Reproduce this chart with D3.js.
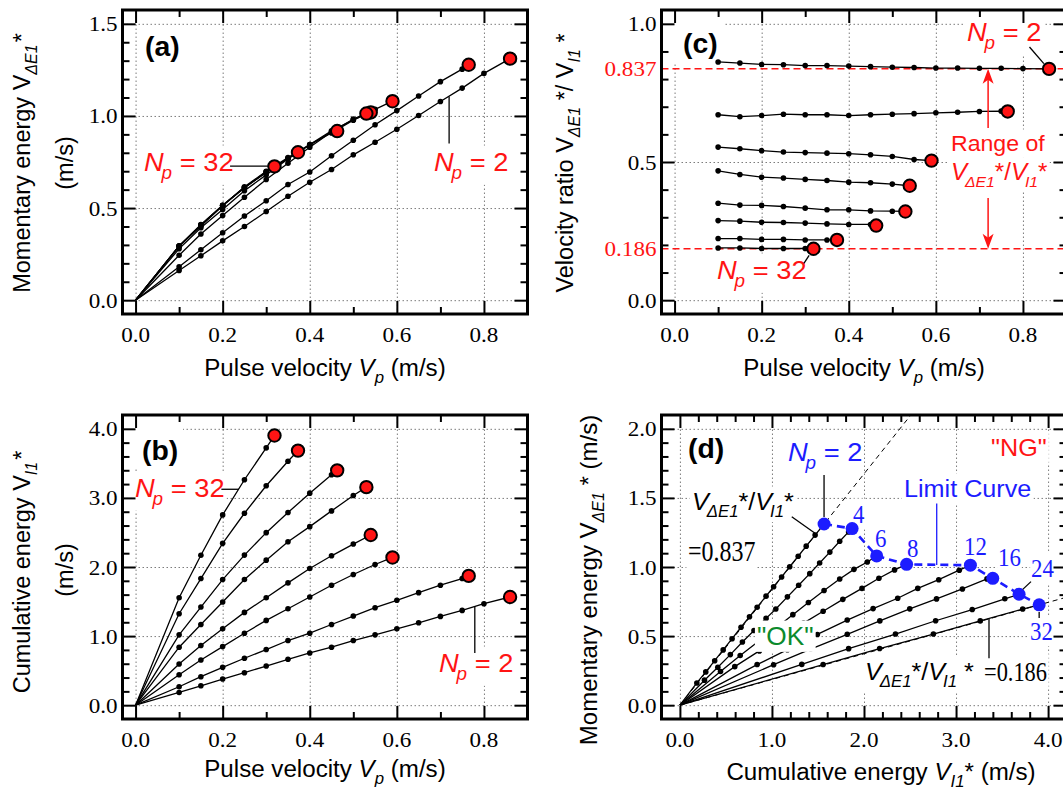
<!DOCTYPE html>
<html>
<head>
<meta charset="utf-8">
<script src="https://cdn.jsdelivr.net/npm/d3@7"></script>
<style>
  body { margin: 0; background: #fff; }
  svg { display: block; }
  text { white-space: pre; }
</style>
</head>
<body>
<script>
// ---------------- data ----------------
// Series order follows the pulse counts; the last entry of each series is the limit (red / blue) point.
const pulseCounts = [2, 4, 6, 8, 12, 16, 24, 32];

const pulseVelocity = [
  [0.10, 0.15, 0.20, 0.25, 0.30, 0.35, 0.40, 0.45, 0.50, 0.55, 0.60, 0.65, 0.70, 0.75, 0.80, 0.86],
  [0.10, 0.15, 0.20, 0.25, 0.30, 0.35, 0.40, 0.45, 0.50, 0.55, 0.60, 0.65, 0.70, 0.75, 0.765],
  [0.10, 0.15, 0.20, 0.25, 0.30, 0.35, 0.40, 0.45, 0.50, 0.55, 0.59],
  [0.10, 0.15, 0.20, 0.25, 0.30, 0.35, 0.40, 0.45, 0.50, 0.54],
  [0.10, 0.15, 0.20, 0.25, 0.30, 0.35, 0.40, 0.45, 0.50, 0.53],
  [0.10, 0.15, 0.20, 0.25, 0.30, 0.35, 0.40, 0.45, 0.463],
  [0.10, 0.15, 0.20, 0.25, 0.30, 0.35, 0.373],
  [0.10, 0.15, 0.20, 0.25, 0.30, 0.319]
];

// Cumulative energy V_I1* (m/s)
const cumulativeEnergy = [
  [0.184, 0.281, 0.378, 0.470, 0.567, 0.664, 0.756, 0.839, 0.936, 1.018, 1.105, 1.193, 1.285, 1.372, 1.469, 1.566],
  [0.267, 0.412, 0.548, 0.679, 0.805, 0.936, 1.042, 1.168, 1.290, 1.411, 1.518, 1.629, 1.736, 1.833, 1.871],
  [0.441, 0.655, 0.848, 1.042, 1.227, 1.396, 1.566, 1.736, 1.891, 2.036, 2.138],
  [0.596, 0.863, 1.105, 1.343, 1.556, 1.770, 1.978, 2.162, 2.332, 2.463],
  [0.839, 1.168, 1.493, 1.818, 2.099, 2.366, 2.584, 2.812, 3.035, 3.156],
  [1.018, 1.420, 1.818, 2.172, 2.497, 2.788, 3.069, 3.336, 3.399],
  [1.324, 1.833, 2.342, 2.778, 3.176, 3.530, 3.685],
  [1.556, 2.170, 2.754, 3.263, 3.724, 3.903]
];

// Momentary energy V_dE1* (m/s)
const momentaryEnergy = [
  [0.161, 0.241, 0.322, 0.400, 0.481, 0.564, 0.640, 0.709, 0.789, 0.857, 0.928, 1.002, 1.078, 1.151, 1.231, 1.311],
  [0.181, 0.274, 0.366, 0.457, 0.540, 0.628, 0.696, 0.784, 0.868, 0.952, 1.029, 1.108, 1.186, 1.254, 1.278],
  [0.244, 0.359, 0.459, 0.559, 0.655, 0.743, 0.830, 0.913, 0.983, 1.036, 1.080],
  [0.279, 0.393, 0.492, 0.594, 0.680, 0.766, 0.845, 0.919, 0.979, 1.019],
  [0.294, 0.402, 0.512, 0.616, 0.699, 0.774, 0.845, 0.908, 0.977, 1.013],
  [0.293, 0.406, 0.513, 0.610, 0.697, 0.769, 0.841, 0.914, 0.918],
  [0.295, 0.409, 0.515, 0.611, 0.692, 0.770, 0.803],
  [0.294, 0.410, 0.515, 0.610, 0.696, 0.726]
];

// Velocity ratio V_dE1*/V_I1*
const velocityRatio = [
  [0.862, 0.858, 0.853, 0.852, 0.849, 0.849, 0.847, 0.845, 0.843, 0.842, 0.840, 0.840, 0.839, 0.839, 0.838, 0.837],
  [0.671, 0.664, 0.668, 0.673, 0.671, 0.671, 0.668, 0.671, 0.673, 0.675, 0.678, 0.680, 0.683, 0.684, 0.683],
  [0.554, 0.548, 0.541, 0.536, 0.534, 0.532, 0.530, 0.526, 0.520, 0.509, 0.505],
  [0.468, 0.455, 0.445, 0.442, 0.437, 0.433, 0.427, 0.425, 0.420, 0.414],
  [0.351, 0.344, 0.343, 0.339, 0.333, 0.327, 0.327, 0.323, 0.322, 0.321],
  [0.288, 0.286, 0.282, 0.281, 0.279, 0.276, 0.274, 0.274, 0.270],
  [0.223, 0.223, 0.220, 0.220, 0.218, 0.218, 0.218],
  [0.189, 0.189, 0.187, 0.187, 0.187, 0.186]
];

// Upper and lower bounds of the velocity ratio
const ratioBounds = [0.837, 0.186];

// Tick values
const vpTicks = [0, 0.2, 0.4, 0.6, 0.8];
const momentaryTicks = [0, 0.5, 1.0, 1.5];
const cumulativeTicks = [0, 1, 2, 3, 4];
const ratioTicks = [0, 0.5, 1.0];
const momentaryTicksD = [0, 0.5, 1.0, 1.5, 2.0];

// ---------------- styling ----------------
const SANS = "'Liberation Sans', Arial, Helvetica, sans-serif";
const SERIF = "'Liberation Serif', 'Times New Roman', serif";
const SX = 1.05;
const RED = '#ff1414';
const BLUE = '#1c1cff';
const GREEN = '#0b8a2c';
const GRID = '#7c7c7c';

const svg = d3.select('body').append('svg')
  .attr('width', 1063).attr('height', 797)
  .style('font-family', SANS);

// Rich text with sub/superscripts; parts are strings or {t, italic, sub, sup, size, family, dx}
function rich(layer, x, y, parts, o = {}) {
  const size = o.size || 22;
  const sx = o.sx ?? SX;
  let tf = `translate(${x},${y})`;
  if (o.rotate) tf += ` rotate(${o.rotate})`;
  if (sx !== 1) tf += ` scale(${sx},1)`;
  const g = layer.append('g').attr('transform', tf);
  const t = g.append('text')
    .attr('text-anchor', o.anchor || 'start')
    .attr('font-family', o.family || SANS)
    .attr('font-size', size)
    .attr('font-weight', o.weight || 'normal')
    .attr('fill', o.fill || '#000');
  let cur = 0;
  parts.forEach(p => {
    if (typeof p === 'string') p = { t: p };
    const fs = p.size || (p.sub ? Math.round(size * 0.68) : size);
    const off = p.sub ? size * 0.3 : (p.sup ? -size * 0.38 : 0);
    const ts = t.append('tspan').text(p.t).attr('font-size', fs).attr('dy', off - cur);
    if (p.dx) ts.attr('dx', p.dx);
    if (p.italic) ts.attr('font-style', 'italic');
    if (p.family) ts.attr('font-family', p.family);
    cur = off;
  });
  if (o.box) {
    const b = t.node().getBBox();
    const pad = o.pad ?? 2;
    const host = o.boxLayer ? o.boxLayer.append('rect').attr('transform', tf) : g.insert('rect', 'text');
    host.attr('x', b.x - pad).attr('y', b.y - pad)
      .attr('width', b.width + 2 * pad).attr('height', b.height + 2 * pad)
      .attr('fill', '#fff');
  }
  return g;
}

function makePanel(p) {
  const x = d3.scaleLinear().domain(p.xd).range([p.left, p.right]);
  const y = d3.scaleLinear().domain(p.yd).range([p.bottom, p.top]);
  const w = p.right - p.left, h = p.bottom - p.top;
  const root = svg.append('g');
  const clipId = 'clip-' + p.id;
  root.append('clipPath').attr('id', clipId)
    .append('rect').attr('x', p.left).attr('y', p.top).attr('width', w).attr('height', h);

  // dotted grid at major ticks
  const grid = root.append('g');
  grid.append('g').attr('transform', `translate(0,${p.bottom})`)
    .call(d3.axisBottom(x).tickValues(p.xMajor).tickSize(-h).tickFormat(''));
  grid.append('g').attr('transform', `translate(${p.left},0)`)
    .call(d3.axisLeft(y).tickValues(p.yMajor).tickSize(-w).tickFormat(''));
  grid.selectAll('.domain').remove();
  grid.selectAll('line').attr('stroke', GRID).attr('stroke-width', 1).attr('stroke-dasharray', '1.5,2.5');

  const boxes = root.append('g');
  const data = root.append('g').attr('clip-path', `url(#${clipId})`);
  const notes = root.append('g');
  const frame = root.append('g');

  // inward ticks on all four sides
  const sides = [
    [d3.axisBottom(x), `translate(0,${p.bottom})`, p.xMajor, p.xMinor],
    [d3.axisTop(x), `translate(0,${p.top})`, p.xMajor, p.xMinor],
    [d3.axisLeft(y), `translate(${p.left},0)`, p.yMajor, p.yMinor],
    [d3.axisRight(y), `translate(${p.right},0)`, p.yMajor, p.yMinor]
  ];
  sides.forEach(([ax, tf, major, minor]) => {
    frame.append('g').attr('transform', tf)
      .call(ax.tickValues(major).tickSizeInner(-13).tickSizeOuter(0).tickFormat(''));
    frame.append('g').attr('transform', tf)
      .call(ax.tickValues(minor).tickSizeInner(-7).tickSizeOuter(0).tickFormat(''));
  });
  frame.selectAll('.domain').remove();
  frame.selectAll('line').attr('stroke', '#000').attr('stroke-width', 2);
  frame.append('rect').attr('x', p.left).attr('y', p.top).attr('width', w).attr('height', h)
    .attr('fill', 'none').attr('stroke', '#000').attr('stroke-width', 3);

  // tick labels
  p.xMajor.forEach(v => rich(frame, x(v), p.bottom + 28, [d3.format('.1f')(v)],
    { anchor: 'middle', family: SERIF, size: 22 }));
  p.yMajor.forEach(v => rich(frame, p.left - 5, y(v) + 7.5, [d3.format('.1f')(v)],
    { anchor: 'end', family: SERIF, size: 22 }));

  return { x, y, boxes, data, notes, frame, p };
}

function minorTicks(lo, hi, step, majors) {
  return d3.range(lo, hi + step / 2, step).map(v => +v.toFixed(3))
    .filter(v => !majors.some(m => Math.abs(m - v) < 1e-6));
}

const line = d3.line();
function drawSeries(P, xs, ys, withOrigin, finalStyle) {
  const { x, y, data } = P;
  xs.forEach((xv, i) => {
    const pts = xv.map((v, j) => [x(v), y(ys[i][j])]);
    const path = withOrigin ? [[x(0), y(0)], ...pts] : pts;
    data.append('path').attr('d', line(path)).attr('fill', 'none')
      .attr('stroke', '#000').attr('stroke-width', 1.3);
    data.selectAll(null).data(pts.slice(0, -1)).enter().append('circle')
      .attr('cx', d => d[0]).attr('cy', d => d[1]).attr('r', 2.8).attr('fill', '#000');
    if (finalStyle === 'red') {
      const last = pts[pts.length - 1];
      data.append('circle').attr('cx', last[0]).attr('cy', last[1]).attr('r', 6.2)
        .attr('fill', RED).attr('stroke', '#000').attr('stroke-width', 2);
    }
  });
}

function leader(P, layer, x1, y1, x2, y2, color = '#000') {
  layer.append('line')
    .attr('x1', P.x(x1)).attr('y1', P.y(y1)).attr('x2', P.x(x2)).attr('y2', P.y(y2))
    .attr('stroke', color).attr('stroke-width', 1.3);
}

function npLabel(layer, x, y, value, color, o = {}) {
  return rich(layer, x, y, [
    { t: 'N', italic: true },
    { t: 'p', italic: true, sub: true, size: 18, dx: -2 },
    { t: ' = ' + value }
  ], Object.assign({ size: 26, fill: color }, o));
}

// ratio symbol V_dE1*/V_I1* used in annotations
function ratioParts(size, sub, tailSpace) {
  return [
    { t: 'V', italic: true }, { t: 'ΔE1', italic: true, sub: true, size: sub, dx: -2 },
    '*/', { t: 'V', italic: true }, { t: 'I1', italic: true, sub: true, size: sub, dx: -2 },
    tailSpace ? ' *' : '*'
  ];
}

// ================= panel (a) =================
const A = makePanel({
  id: 'a', left: 122.5, right: 527.5, top: 10, bottom: 314,
  xd: [-0.03, 0.9], yd: [-0.075, 1.575],
  xMajor: vpTicks, xMinor: minorTicks(0, 0.8, 0.1, vpTicks),
  yMajor: momentaryTicks, yMinor: minorTicks(0, 1.5, 0.1, momentaryTicks)
});
drawSeries(A, pulseVelocity, momentaryEnergy, true, 'red');
rich(A.notes, 145, 56, ['(a)'], { size: 27, weight: 'bold' });
npLabel(A.notes, 144, 171, '32', RED, { box: true, boxLayer: A.boxes });
leader(A, A.notes, 0.217, 0.728, 0.305, 0.728);
npLabel(A.notes, 434, 171, '2', RED, { box: true, boxLayer: A.boxes });
leader(A, A.notes, 0.72, 1.106, 0.72, 0.85);

// axis titles
rich(svg, 325, 376, ['Pulse velocity ', { t: 'V', italic: true }, { t: 'p', italic: true, sub: true }, ' (m/s)'],
  { anchor: 'middle', size: 23 });
rich(svg, 30, 163, ['Momentary energy V', { t: 'ΔE1', italic: true, sub: true }, { t: '*', dx: 2 }],
  { anchor: 'middle', size: 23.5, rotate: -90, sx: 1 });
rich(svg, 73, 163, ['(m/s)'], { anchor: 'middle', size: 23.5, rotate: -90, sx: 1 });

// ================= panel (b) =================
const B = makePanel({
  id: 'b', left: 122.5, right: 527.5, top: 415, bottom: 719,
  xd: [-0.03, 0.9], yd: [-0.2, 4.2],
  xMajor: vpTicks, xMinor: minorTicks(0, 0.8, 0.1, vpTicks),
  yMajor: cumulativeTicks, yMinor: minorTicks(0, 4, 0.2, cumulativeTicks)
});
B.boxes.append('rect').attr('x', 124).attr('y', 417).attr('width', 59).attr('height', 50).attr('fill', '#fff');
drawSeries(B, pulseVelocity, cumulativeEnergy, true, 'red');
rich(B.notes, 142, 460, ['(b)'], { size: 27, weight: 'bold' });
npLabel(B.notes, 135, 497, '32', RED, { box: true, boxLayer: B.boxes });
leader(B, B.notes, 0.197, 3.125, 0.237, 3.125);
npLabel(B.notes, 439, 672, '2', RED, { box: true, boxLayer: B.boxes });
leader(B, B.notes, 0.779, 1.43, 0.779, 0.755);

rich(svg, 325, 777, ['Pulse velocity ', { t: 'V', italic: true }, { t: 'p', italic: true, sub: true }, ' (m/s)'],
  { anchor: 'middle', size: 23 });
rich(svg, 30, 572, ['Cumulative energy V', { t: 'I1', italic: true, sub: true }, { t: '*', dx: 2 }],
  { anchor: 'middle', size: 23.5, rotate: -90, sx: 1 });
rich(svg, 73, 570, ['(m/s)'], { anchor: 'middle', size: 23.5, rotate: -90, sx: 1 });

// ================= panel (c) =================
const C = makePanel({
  id: 'c', left: 661.5, right: 1066.5, top: 10, bottom: 314,
  xd: [-0.03, 0.9], yd: [-0.05, 1.05],
  xMajor: vpTicks, xMinor: minorTicks(0, 0.8, 0.1, vpTicks),
  yMajor: ratioTicks, yMinor: minorTicks(0, 1.0, 0.1, ratioTicks)
});
C.boxes.append('rect').attr('x', 663).attr('y', 12).attr('width', 61).attr('height', 50).attr('fill', '#fff');
// bounds of the ratio
ratioBounds.forEach(r => {
  C.data.append('line')
    .attr('x1', C.x(C.p.xd[0])).attr('x2', C.x(C.p.xd[1]))
    .attr('y1', C.y(r)).attr('y2', C.y(r))
    .attr('stroke', RED).attr('stroke-width', 1.5).attr('stroke-dasharray', '7,4');
  rich(C.frame, C.p.left - 5, C.y(r) + 7.5, [d3.format('.3f')(r)],
    { anchor: 'end', family: SERIF, size: 22, fill: RED });
});
drawSeries(C, pulseVelocity, velocityRatio, false, 'red');
rich(C.notes, 683, 53, ['(c)'], { size: 27, weight: 'bold' });
npLabel(C.notes, 967, 41, '2', RED, { box: true, boxLayer: C.boxes });
leader(C, C.notes, 0.815, 0.916, 0.848, 0.856);
npLabel(C.notes, 717, 279, '32', RED, { box: true, boxLayer: C.boxes });
leader(C, C.notes, 0.297, 0.133, 0.309, 0.162);

// range annotation with arrows
rich(C.notes, 951, 151, ['Range of'], { size: 22, fill: RED, box: true, boxLayer: C.boxes });
rich(C.notes, 951, 180, ratioParts(23, 15, false), { size: 23, fill: RED, box: true, boxLayer: C.boxes });
{
  const ax = C.x(0.72);
  const up = C.y(ratioBounds[0]), dn = C.y(ratioBounds[1]);
  C.notes.append('line').attr('x1', ax).attr('x2', ax).attr('y1', up + 10).attr('y2', C.y(0.623))
    .attr('stroke', RED).attr('stroke-width', 1.5);
  C.notes.append('line').attr('x1', ax).attr('x2', ax).attr('y1', C.y(0.37)).attr('y2', dn - 10)
    .attr('stroke', RED).attr('stroke-width', 1.5);
  C.notes.append('path')
    .attr('d', `M${ax},${up} L${ax - 5.5},${up + 15} L${ax},${up + 11} L${ax + 5.5},${up + 15} Z`)
    .attr('fill', RED);
  C.notes.append('path')
    .attr('d', `M${ax},${dn} L${ax - 5.5},${dn - 15} L${ax},${dn - 11} L${ax + 5.5},${dn - 15} Z`)
    .attr('fill', RED);
}

rich(svg, 864, 376, ['Pulse velocity ', { t: 'V', italic: true }, { t: 'p', italic: true, sub: true }, ' (m/s)'],
  { anchor: 'middle', size: 23 });
rich(svg, 573, 163, ['Velocity ratio V', { t: 'ΔE1', italic: true, sub: true }, ' */ V',
  { t: 'I1', italic: true, sub: true }, ' *'],
  { anchor: 'middle', size: 23.5, rotate: -90, sx: 1 });

// ================= panel (d) =================
const D = makePanel({
  id: 'd', left: 661.5, right: 1066.5, top: 415, bottom: 719,
  xd: [-0.2, 4.2], yd: [-0.1, 2.1],
  xMajor: cumulativeTicks, xMinor: minorTicks(0, 4, 0.2, cumulativeTicks),
  yMajor: momentaryTicksD, yMinor: minorTicks(0, 2, 0.1, momentaryTicksD)
});
// reference slopes of the ratio bounds
ratioBounds.forEach(r => {
  D.data.append('line')
    .attr('x1', D.x(0)).attr('y1', D.y(0))
    .attr('x2', D.x(D.p.xd[1])).attr('y2', D.y(D.p.xd[1] * r))
    .attr('stroke', '#000').attr('stroke-width', 1).attr('stroke-dasharray', '5,4');
});
drawSeries(D, cumulativeEnergy, momentaryEnergy, true, null);

// limit curve through the final points
const limitPts = cumulativeEnergy.map((s, i) => [D.x(s[s.length - 1]), D.y(momentaryEnergy[i][momentaryEnergy[i].length - 1])]);
D.data.append('path').attr('d', line(limitPts)).attr('fill', 'none')
  .attr('stroke', BLUE).attr('stroke-width', 2.6).attr('stroke-dasharray', '8,5');
D.data.selectAll(null).data(limitPts).enter().append('circle')
  .attr('cx', d => d[0]).attr('cy', d => d[1]).attr('r', 6.5).attr('fill', BLUE);

rich(D.notes, 688, 458, ['(d)'], { size: 27, weight: 'bold' });
npLabel(D.notes, 788, 461, '2', BLUE);
{
  const s = cumulativeEnergy[0], m = momentaryEnergy[0];
  leader(D, D.notes, s[s.length - 1], 1.666, s[s.length - 1], m[m.length - 1] + 0.05);
}
rich(D.notes, 692, 510, ratioParts(24, 16, false), { size: 24, box: true, boxLayer: D.boxes });
rich(D.notes, 688, 561, ['=0.837'], { size: 30, sx: 0.8, family: SERIF, box: true, boxLayer: D.boxes });
leader(D, D.notes, 1.215, 1.364, 1.468, 1.244);

// pulse-count tags along the limit curve
const tagPos = [null, [853, 523], [875, 547], [907, 557], [964, 555], [998, 566], [1031, 577], [1030, 640]];
pulseCounts.forEach((n, i) => {
  if (!tagPos[i]) return;
  rich(D.notes, tagPos[i][0], tagPos[i][1], [String(n)],
    { size: 26, sx: 0.88, family: SERIF, fill: BLUE, box: true, boxLayer: D.boxes, pad: 1 });
});
{
  const s24 = cumulativeEnergy[6], m24 = momentaryEnergy[6];
  leader(D, D.notes, 3.814, 0.894, s24[s24.length - 1] + 0.04, m24[m24.length - 1] + 0.035);
  const s32 = cumulativeEnergy[7];
  leader(D, D.notes, s32[s32.length - 1], 0.675, s32[s32.length - 1], 0.631);
}
rich(D.notes, 904, 497, ['Limit Curve'], { size: 24, fill: BLUE, box: true, boxLayer: D.boxes });
leader(D, D.notes, 2.79, 1.46, 2.79, 1.015, BLUE);
rich(D.notes, 991, 456, ['"NG"'], { size: 24, fill: RED, box: true, boxLayer: D.boxes });
rich(D.notes, 757, 645, ['"OK"'], { size: 25, fill: GREEN, box: true, pad: 2 });

rich(D.notes, 865, 680, ratioParts(24, 16, true), { size: 24, box: true, boxLayer: D.boxes });
rich(D.notes, 984, 681, ['=0.186'], { size: 28, sx: 0.8, family: SERIF, box: true, boxLayer: D.boxes });
leader(D, D.notes, 3.358, ratioBounds[1] * 3.358, 3.358, 0.339);

rich(svg, 881, 780, ['Cumulative energy ', { t: 'V', italic: true }, { t: 'I1', italic: true, sub: true }, '* (m/s)'],
  { anchor: 'middle', size: 23 });
rich(svg, 597, 580, ['Momentary energy V', { t: 'ΔE1', italic: true, sub: true }, ' * (m/s)'],
  { anchor: 'middle', size: 24, rotate: -90, sx: 1 });
</script>
</body>
</html>
